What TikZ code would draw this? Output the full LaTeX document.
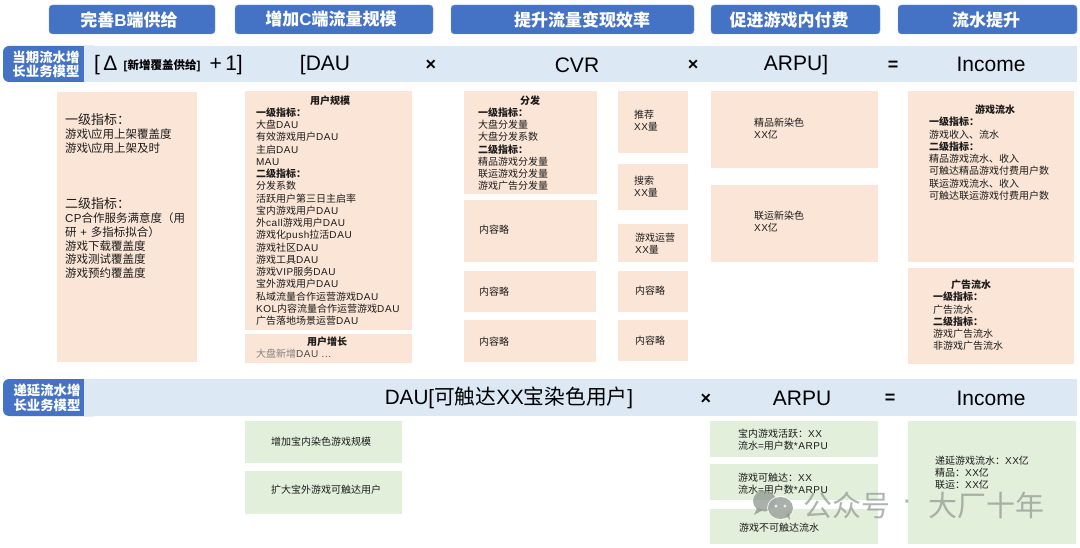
\documentclass[tikz,border=0pt]{standalone}
\usepackage{fontspec}
\setmainfont{Liberation Sans}
\newfontfamily\smalllat[LetterSpace=6]{Liberation Sans}
\newfontfamily\cjk{Noto Sans CJK SC}
\XeTeXinterchartokenstate=1
\newXeTeXintercharclass\cjkcl
\newcount\cc
\cc="4E00 \loop\XeTeXcharclass\cc=\cjkcl \advance\cc by 1 \ifnum\cc<"A000 \repeat
\cc="3000 \loop\XeTeXcharclass\cc=\cjkcl \advance\cc by 1 \ifnum\cc<"3040 \repeat
\cc="FF00 \loop\XeTeXcharclass\cc=\cjkcl \advance\cc by 1 \ifnum\cc<"FF60 \repeat
\XeTeXinterchartoks 0 \cjkcl={\begingroup\cjk}
\XeTeXinterchartoks 4095 \cjkcl={\begingroup\cjk}
\XeTeXinterchartoks \cjkcl 0={\endgroup}
\XeTeXinterchartoks \cjkcl 4095={\endgroup}
\definecolor{hblue}{HTML}{4472C4}
\definecolor{barblue}{HTML}{DCE8F4}
\definecolor{peach}{HTML}{FBE5D6}
\definecolor{leaf}{HTML}{E2EFDA}
\definecolor{ink}{HTML}{1C1C1C}
\definecolor{wm}{HTML}{8E968E}
\tikzset{
  bxbase/.style={anchor=north west,inner sep=0pt,outer sep=0pt},
  hdr/.style={bxbase,fill=hblue,draw=hblue!70,line width=.4pt,rounded corners=3.5pt},
  tag/.style={bxbase,fill=hblue,rounded corners=6pt},
  bar/.style={bxbase,fill=barblue},
  pch/.style={bxbase,fill=peach},
  grn/.style={bxbase,fill=leaf},
  txt/.style={anchor=north west,inner sep=0pt,outer sep=0pt,align=left,text=ink},
  mid/.style={anchor=center,inner sep=0pt,outer sep=0pt,align=center},
  hdrtxt/.style={mid,text=white,font=\fontsize{17}{20}\selectfont\bfseries},
  tagtxt/.style={mid,text=white,font=\fontsize{13.4}{14.5}\selectfont\bfseries},
  formula/.style={mid,text=black,font=\fontsize{21}{24}\selectfont},
  opr/.style={mid,text=black,font=\fontsize{18}{22}\selectfont\bfseries},
  wmk/.style={mid,text=wm,opacity=.7,font=\fontsize{29}{32}\selectfont},
}
\newcommand{\bx}[6]{\node[#6,minimum width=#4pt-#2pt,minimum height=#5pt-#3pt] (#1) at (#2,#3) {};}
\newcommand{\tx}[6]{\node[txt,font=\smalllat\fontsize{#4}{#5}\selectfont] (#1) at (#2,#3) {#6};}
\begin{document}
\begin{tikzpicture}[x=1pt,y=-1pt]
\useasboundingbox (0,0) rectangle (1080,548);
% headers
\bx{h1}{49}{5}{215}{34}{hdr}
\bx{h2}{235}{5}{433}{34}{hdr}
\bx{h3}{451}{5}{694}{34}{hdr}
\bx{h4}{711}{5}{880}{34}{hdr}
\bx{h5}{898}{5}{1077}{34}{hdr}
\node[hdrtxt] (h1t) at (129,20) {完善B端供给};
\node[hdrtxt] (h2t) at (331,19.5) {增加C端流量规模};
\node[hdrtxt] (h3t) at (582,20) {提升流量变现效率};
\node[hdrtxt] (h4t) at (789,20) {促进游戏内付费};
\node[hdrtxt] (h5t) at (986,20) {流水提升};
% row bars
\bx{tag1}{3}{46}{100}{82}{tag}
\bx{bar1}{84}{46}{1077}{82}{bar}
\bx{tag2}{3}{379}{100}{416}{tag}
\bx{bar2}{84}{379}{1077}{416}{bar}
\node[tagtxt] (tag1t) at (46,64.5) {当期流水增\\长业务模型};
\node[tagtxt] (tag2t) at (47,398) {递延流水增\\长业务模型};
% formula row 1
\node[formula,anchor=west] (f1a) at (94,65) {[\,Δ};
\node[mid,text=black,font=\fontsize{11.5}{13}\selectfont\bfseries] (f1b) at (162,66) {[新增覆盖供给]};
\node[formula,anchor=west] (f1c) at (209.5,65) {+\,1]};
\node[formula] (f2) at (325,65.5) {[DAU};
\node[opr] (f3) at (431,65) {×};
\node[formula] (f4) at (577,65) {CVR};
\node[opr] (f5) at (693,65) {×};
\node[formula] (f6) at (796,65.5) {ARPU]};
\node[opr] (f7) at (893,65.5) {=};
\node[formula] (f8) at (991,64.5) {Income};
% formula row 2
\node[formula,font=\fontsize{20.7}{24}\selectfont] (g1) at (509,397.5) {DAU[可触达XX宝染色用户]};
\node[opr] (g2) at (706,399) {×};
\node[formula] (g3) at (802,398.5) {ARPU};
\node[opr] (g4) at (890,398.5) {=};
\node[formula] (g5) at (991,398) {Income};
% peach boxes
\bx{p1}{57}{92}{197}{362}{pch}
\bx{p2}{245}{91}{412}{330}{pch}
\bx{p3}{245}{334}{412}{363}{pch}
\bx{p4}{464}{91}{597}{194}{pch}
\bx{p5}{464}{200}{597}{262}{pch}
\bx{p6}{464}{271}{596}{312}{pch}
\bx{p7}{464}{320}{596}{362}{pch}
\bx{p8}{618}{91}{688}{153}{pch}
\bx{p9}{618}{164}{688}{210}{pch}
\bx{p10}{618}{224}{688}{262}{pch}
\bx{p11}{618}{271}{688}{312}{pch}
\bx{p12}{618}{320}{688}{361}{pch}
\bx{p13}{711}{91}{878}{168}{pch}
\bx{p14}{711}{185}{878}{262}{pch}
\bx{p15}{908}{91}{1074}{262}{pch}
\bx{p16}{908}{268}{1074}{364}{pch}
% green boxes
\bx{q1}{245}{421}{402}{463}{grn}
\bx{q2}{245}{471}{402}{514}{grn}
\bx{q3}{710}{421}{878}{457}{grn}
\bx{q4}{710}{464}{878}{500}{grn}
\bx{q5}{710}{509}{878}{544}{grn}
\bx{q6}{908}{421}{1076}{544}{grn}
% texts
\tx{t1a}{65}{114}{13}{14}{一级指标：}
\tx{t1b}{65}{129}{11.5}{13.5}{游戏\textbackslash 应用上架覆盖度\\游戏\textbackslash 应用上架及时}
\tx{t1c}{65}{198}{13}{14}{二级指标：}
\tx{t1d}{65}{213}{11.5}{13.6}{CP合作服务满意度（用\\研 + 多指标拟合）\\游戏下载覆盖度\\游戏测试覆盖度\\游戏预约覆盖度}
\tx{t2}{256}{95.5}{10}{12.25}{\hspace*{54pt}\textbf{用户规模}\\\textbf{一级指标：}\\大盘DAU\\有效游戏用户DAU\\主启DAU\\MAU\\\textbf{二级指标：}\\分发系数\\活跃用户第三日主启率\\宝内游戏用户DAU\\外call游戏用户DAU\\游戏化push拉活DAU\\游戏社区DAU\\游戏工具DAU\\游戏VIP服务DAU\\宝外游戏用户DAU\\私域流量合作运营游戏DAU\\KOL内容流量合作运营游戏DAU\\广告落地场景运营DAU}
\tx{t3}{256}{337}{10}{12.25}{\hspace*{51pt}\textbf{用户增长}\\\textcolor{ink!55}{大盘新增}\textcolor{ink!80}{DAU ...}}
\tx{t4}{478}{95.5}{10}{12.25}{\hspace*{42pt}\textbf{分发}\\\textbf{一级指标：}\\大盘分发量\\大盘分发系数\\\textbf{二级指标：}\\精品游戏分发量\\联运游戏分发量\\游戏广告分发量}
\tx{t5}{479}{225}{10}{12.25}{内容略}
\tx{t6}{479}{287}{10}{12.25}{内容略}
\tx{t7}{479}{337}{10}{12.25}{内容略}
\tx{t8}{634}{110}{10}{12.25}{推荐\\XX量}
\tx{t9}{634}{176}{10}{12.25}{搜索\\XX量}
\tx{t10}{635}{233}{10}{12.25}{游戏运营\\XX量}
\tx{t11}{635}{286}{10}{12.25}{内容略}
\tx{t12}{635}{336}{10}{12.25}{内容略}
\tx{t13}{754}{118}{10}{12.25}{精品新染色\\XX亿}
\tx{t14}{754}{211}{10}{12.25}{联运新染色\\XX亿}
\tx{t15}{929}{105}{10}{12.25}{\hspace*{46pt}\textbf{游戏流水}\\\textbf{一级指标：}\\游戏收入、流水\\\textbf{二级指标：}\\精品游戏流水、收入\\可触达精品游戏付费用户数\\联运游戏流水、收入\\可触达联运游戏付费用户数}
\tx{t16}{933}{280}{10}{12.25}{\hspace*{18pt}\textbf{广告流水}\\\textbf{一级指标：}\\广告流水\\\textbf{二级指标：}\\游戏广告流水\\非游戏广告流水}
\tx{u1}{271}{437}{10}{12.25}{增加宝内染色游戏规模}
\tx{u2}{271}{485}{10}{12.25}{扩大宝外游戏可触达用户}
\tx{u3}{738}{429}{10}{12.25}{宝内游戏活跃：XX\\流水=用户数*ARPU}
\tx{u4}{738}{473}{10}{12.25}{游戏可触达：XX\\流水=用户数*ARPU}
\tx{u5}{739}{523}{10}{12.25}{游戏不可触达流水}
\tx{u6}{935}{456}{10}{12.25}{递延游戏流水：XX亿\\精品：XX亿\\联运：XX亿}
% watermark
\begin{scope}[opacity=.75]
\fill[wm] (764.5,501) ellipse (11.5pt and 10.5pt);
\fill[wm] (757,508) -- (754,515) -- (763,510) -- cycle;
\fill[white] (780.5,508) ellipse (13.5pt and 12pt);
\fill[wm] (780.5,508) ellipse (12.5pt and 11pt);
\fill[wm] (786,516) -- (790,520) -- (789,512) -- cycle;
\fill[white] (776,506) circle (1.6pt) (785,506) circle (1.6pt);
\end{scope}
\node[wmk] (w1) at (847,505) {公众号};
\node[wmk] (w2) at (907,505) {·};
\node[wmk] (w3) at (986,505) {大厂十年};
\end{tikzpicture}
\end{document}
